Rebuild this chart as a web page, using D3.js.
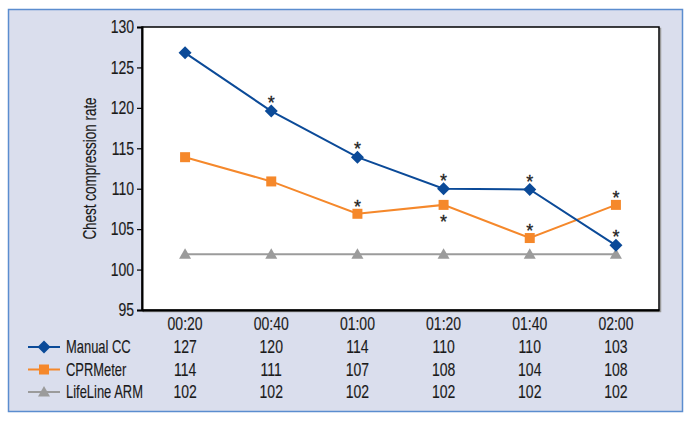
<!DOCTYPE html>
<html><head><meta charset="utf-8">
<script src="https://cdn.jsdelivr.net/npm/d3@7"></script>
<style>
html,body{margin:0;padding:0;background:#fff;}
svg{display:block;}
text{font-family:"Liberation Sans",Arial,sans-serif;fill:#1a1a1a;}
text.t{stroke:#1a1a1a;stroke-width:0.15px;}
</style></head>
<body>
<svg id="c" width="692" height="422"></svg>
<script>
const categories = ["00:20","00:40","01:00","01:20","01:40","02:00"];
const manualCC = [126.8,119.6,113.9,110.0,109.9,103.0];
const cprMeter = [113.9,110.9,106.9,108.0,103.9,108.0];
const lifeLine = [101.9,101.9,101.9,101.9,101.9,101.9];
const manualTable = ["127","120","114","110","110","103"];
const cprTable = ["114","111","107","108","104","108"];
const lifeTable = ["102","102","102","102","102","102"];
const yTicks = [95,100,105,110,115,120,125,130];
const manualStars = [1,2,3,4,5];       // asterisks above
const cprStarsAbove = [2,4,5];
const cprStarsBelow = [3];
const seriesNames = ["Manual CC","CPRMeter","LifeLine ARM"];

const FS = 17.5, SXD = 0.8, SXT = 0.74;
const svg = d3.select("#c");
// outer panel
svg.append("rect").attr("x",8.5).attr("y",9.5).attr("width",674).attr("height",402)
  .attr("fill","#dadeed").attr("stroke","#5b8dcf").attr("stroke-width",1.5);

const L=142,R=659,T=27,B=310;
const x = d3.scalePoint().domain(categories).range([L,R]).padding(0.5);
const y = d3.scaleLinear().domain([95,130]).range([B,T]);

function addText(px, py, str, anchor, sx){
  return svg.append("text").attr("class","t").attr("transform",`translate(${px},${py}) scale(${sx||SXD},1)`)
    .attr("text-anchor",anchor||"start").attr("dy","0.36em").attr("font-size",FS).text(str);
}

// plot shadow + area
svg.append("rect").attr("x",L+1.5).attr("y",T+1.5).attr("width",R-L).attr("height",B-T)
  .attr("fill","none").attr("stroke","#9a9a9a").attr("stroke-width",1.5);
svg.append("rect").attr("x",L).attr("y",T).attr("width",R-L).attr("height",B-T)
  .attr("fill","#fff").attr("stroke","#000").attr("stroke-width",1.5);

// y axis
const ya = svg.append("g").attr("transform",`translate(${L},0)`)
  .call(d3.axisLeft(y).tickValues(yTicks).tickSize(5).tickPadding(3).tickFormat(d3.format("d")));
ya.select(".domain").attr("stroke","#000").attr("stroke-width",2);
ya.selectAll(".tick line").attr("stroke","#000").attr("stroke-width",1.2);
ya.selectAll(".tick text").remove();
yTicks.forEach(t=>addText(L-8, y(t), String(t), "end"));

// x axis (labels only)
const xa = svg.append("g").attr("transform",`translate(0,${B})`)
  .call(d3.axisBottom(x).tickSize(0).tickPadding(8));
xa.select(".domain").attr("stroke","#000").attr("stroke-width",2);
xa.selectAll(".tick text").remove();
categories.forEach(c=>addText(x(c), 324, c, "middle"));

// y label
svg.append("text").attr("class","t").attr("transform",`translate(90,${(T+B)/2}) rotate(-90) scale(0.77,1)`)
  .attr("text-anchor","middle").attr("dy","0.36em").attr("font-size",FS).text("Chest compression rate");

const series = [
  {name:seriesNames[0], vals:manualCC, color:"#0b4a98", shape:"diamond", table:manualTable},
  {name:seriesNames[1], vals:cprMeter, color:"#f5882b", shape:"square", table:cprTable},
  {name:seriesNames[2], vals:lifeLine, color:"#9b9b9b", shape:"triangle", table:lifeTable}
];
function marker(g, shape, color){
  if(shape==="diamond") g.append("path").attr("d","M0,-6.5L6.5,0L0,6.5L-6.5,0Z").attr("fill",color);
  else if(shape==="square") g.append("rect").attr("x",-5).attr("y",-5).attr("width",10).attr("height",10).attr("fill",color);
  else g.append("path").attr("d","M0,-6L6,4.5L-6,4.5Z").attr("fill",color);
}
const line = d3.line().x((d,i)=>x(categories[i])).y(d=>y(d));
[2,1,0].forEach(si=>{
  const s = series[si];
  svg.append("path").datum(s.vals).attr("d",line).attr("fill","none")
    .attr("stroke",s.color).attr("stroke-width",2);
  s.vals.forEach((v,i)=>{
    const g = svg.append("g").attr("transform",`translate(${x(categories[i])},${y(v)})`);
    marker(g,s.shape,s.color);
  });
});

// asterisks
function star(cx, cy){
  svg.append("text").attr("x",cx).attr("y",cy+10).attr("text-anchor","middle")
    .attr("font-size",18).attr("fill","#222").attr("stroke","#222").attr("stroke-width",0.3).text("*");
}
manualStars.forEach(i=>star(x(categories[i]), y(manualCC[i])-12));
cprStarsAbove.forEach(i=>star(x(categories[i]), y(cprMeter[i])-11));
cprStarsBelow.forEach(i=>star(x(categories[i]), y(cprMeter[i])+13));

// legend table
const rowY = [347,369.5,392];
series.forEach((s,r)=>{
  const yy = rowY[r];
  svg.append("line").attr("x1",28).attr("x2",60).attr("y1",yy).attr("y2",yy)
    .attr("stroke",s.color).attr("stroke-width",2);
  const g = svg.append("g").attr("transform",`translate(44,${yy})`);
  marker(g,s.shape,s.color);
  addText(66, yy, s.name, "start", SXT);
  s.table.forEach((t,i)=>addText(x(categories[i]), yy, t, "middle"));
});
</script>
</body></html>
